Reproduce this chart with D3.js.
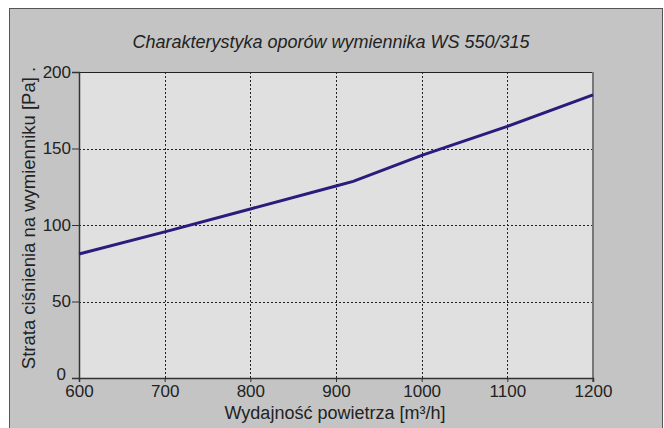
<!DOCTYPE html>
<html>
<head>
<meta charset="utf-8">
<script src="https://cdn.jsdelivr.net/npm/d3@7"></script>
<style>
  html, body { margin: 0; padding: 0; background: #fff; }
  svg { display: block; font-family: "Liberation Sans", Arial, sans-serif; }
</style>
</head>
<body>
<div id="chart"></div>
<script>
// air flow [m3/h] and pressure drop [Pa]
const flow = [600, 700, 800, 900, 920, 1000, 1100, 1200];
const pressure = [81, 95.5, 110.5, 125.5, 128.5, 145.5, 164.5, 185];
const xTicks = [600, 700, 800, 900, 1000, 1100, 1200];
const yTicks = [0, 50, 100, 150, 200];

const title = 'Charakterystyka oporów wymiennika WS 550/315';
const xTitle = 'Wydajność powietrza [m³/h]';
const yTitle = 'Strata ciśnienia na wymienniku [Pa] .';

const width = 664, height = 428;
const margin = {top: 72, right: 71, bottom: 50, left: 79};

const svg = d3.select('#chart')
  .append('svg')
  .attr('width', width)
  .attr('height', height);

// grey panel with frame
svg.append('rect')
  .attr('x', 9.5).attr('y', 8.5)
  .attr('width', 653).attr('height', 430)
  .attr('fill', '#c4c4c4')
  .attr('stroke', '#555')
  .attr('stroke-width', 1);

const x = d3.scaleLinear()
  .domain([600, 1200])
  .range([margin.left, width - margin.right]);

const y = d3.scaleLinear()
  .domain([0, 200])
  .range([height - margin.bottom, margin.top]);

// plot background
svg.append('rect')
  .attr('x', x(600)).attr('y', y(200))
  .attr('width', x(1200) - x(600)).attr('height', y(0) - y(200))
  .attr('fill', '#e0e0e0');

// grid
const grid = svg.append('g')
  .attr('stroke', '#222')
  .attr('stroke-width', 1)
  .attr('stroke-dasharray', '2,2');

grid.selectAll('line.v')
  .data(xTicks.slice(1, -1))
  .enter()
  .append('line')
  .attr('x1', d => Math.round(x(d)) + 0.5)
  .attr('x2', d => Math.round(x(d)) + 0.5)
  .attr('y1', y(200))
  .attr('y2', y(0));

grid.selectAll('line.h')
  .data(yTicks.slice(1, -1))
  .enter()
  .append('line')
  .attr('x1', x(600))
  .attr('x2', x(1200))
  .attr('y1', d => Math.round(y(d)) + 0.5)
  .attr('y2', d => Math.round(y(d)) + 0.5);

// frame top & right
svg.append('line')
  .attr('x1', x(600)).attr('x2', x(1200))
  .attr('y1', y(200) + 0.5).attr('y2', y(200) + 0.5)
  .attr('stroke', '#222');
svg.append('line')
  .attr('x1', x(1200)).attr('x2', x(1200))
  .attr('y1', y(200)).attr('y2', y(0) + 4)
  .attr('stroke', '#777')
  .attr('stroke-width', 2);

// axes
const xAxis = svg.append('g')
  .attr('transform', `translate(0, ${y(0)})`)
  .call(d3.axisBottom(x).tickValues(xTicks).tickFormat(d3.format('d'))
    .tickSize(4).tickPadding(3));

const yAxis = svg.append('g')
  .attr('transform', `translate(${x(600)}, 0)`)
  .call(d3.axisLeft(y).tickValues(yTicks).tickFormat(d3.format('d'))
    .tickSize(7).tickPadding(1));

[xAxis, yAxis].forEach(g => {
  g.select('.domain').attr('stroke', '#333').attr('stroke-width', 1.5);
  g.selectAll('.tick line').attr('stroke', '#333');
  g.selectAll('.tick text')
    .attr('fill', '#222')
    .style('font-size', '17px')
    .style('font-family', '"Liberation Sans", Arial, sans-serif');
});

// the "0" label sits a little higher and further left, clear of "600"
yAxis.selectAll('.tick')
  .filter(d => d === 0)
  .select('text')
  .attr('x', -13)
  .attr('dy', '0.1em');

// curve
const line = d3.line()
  .x((d, i) => x(flow[i]))
  .y(d => y(d));

svg.append('path')
  .datum(pressure)
  .attr('d', line)
  .attr('fill', 'none')
  .attr('stroke', '#291c7c')
  .attr('stroke-width', 3);

// titles
svg.append('text')
  .attr('x', 331).attr('y', 48)
  .attr('text-anchor', 'middle')
  .style('font-size', '18px')
  .style('font-style', 'italic')
  .attr('fill', '#222')
  .text(title);

svg.append('text')
  .attr('x', 335).attr('y', 419)
  .attr('text-anchor', 'middle')
  .style('font-size', '18px')
  .attr('fill', '#222')
  .text(xTitle);

svg.append('text')
  .attr('transform', 'translate(35, 218) rotate(-90)')
  .attr('text-anchor', 'middle')
  .style('font-size', '18.5px')
  .attr('fill', '#222')
  .text(yTitle);
</script>
</body>
</html>
